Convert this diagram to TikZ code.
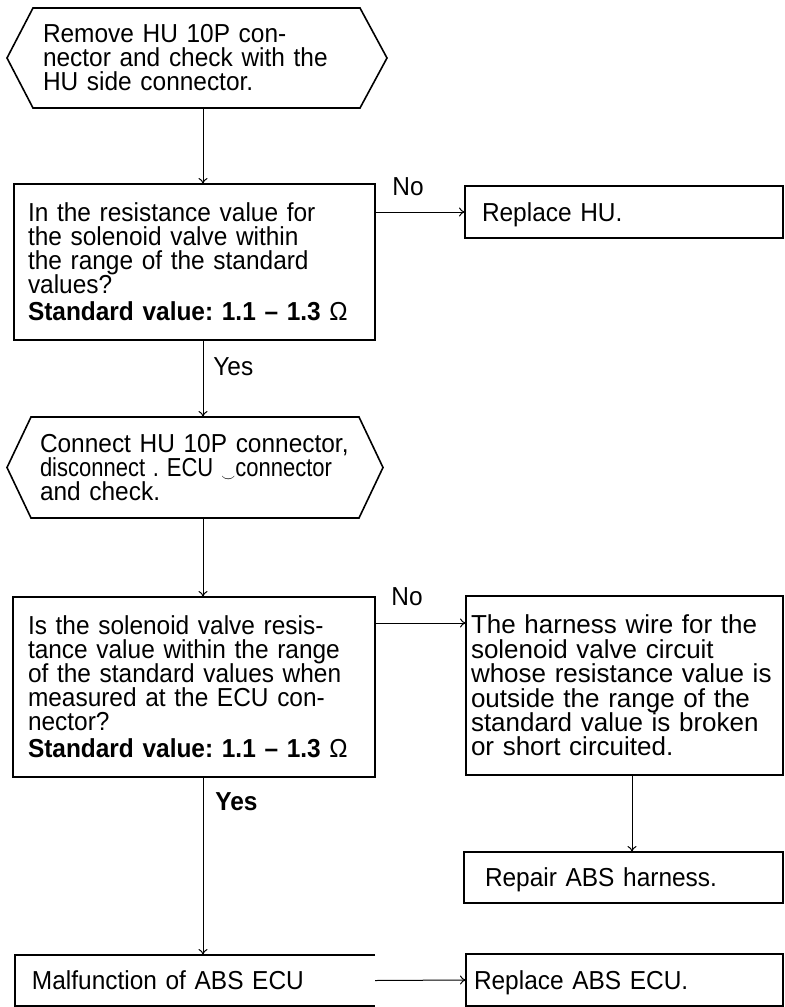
\documentclass[tikz,border=0pt]{standalone}
\usepackage{graphicx}
\usepackage{fontspec}
\setmainfont{Liberation Sans}[FakeStretch=0.94]
\newfontfamily\plainsans{Liberation Sans}
\usetikzlibrary{arrows.meta,calc}
\newcommand\chartfont{\fontsize{13}{12}\selectfont\lineskiplimit-20pt\relax\frenchspacing}

\tikzset{
  txt/.style={font=\chartfont},
  askbox/.style={draw, line width=1pt, inner sep=0pt, outer sep=0pt, align=left, txt},
  actbox/.style={askbox, line width=1.4pt, text depth=0pt},
  hexnode/.style={inner sep=0pt, outer sep=0pt, align=left, txt},
  hexline/.style={line width=.8pt},
  flow/.style={-{To[length=3pt,width=4.5pt]}, line width=.5pt},
  tag/.style={anchor=base west, inner sep=0pt, font=\fontsize{13}{13}\selectfont},
}

\begin{document}
\begin{tikzpicture}[x=.5pt,y=-.5pt]
  \useasboundingbox (0,0) rectangle (785,1007);
  \coordinate (spine) at (203,0);
  \coordinate (rspine) at (632,0);
  \coordinate (armB) at (0,623);

  % first check
  \node[hexnode, minimum width=190pt, minimum height=50pt, text width=154pt] (hexA) at (197,58)
    {Remove HU 10P con-\\nector and check with the\\HU side connector.};
  \draw[hexline] ($(hexA.north west)+(26,0)$) -- ($(hexA.north east)+(-27,0)$) -- (hexA.east)
    -- ($(hexA.south east)+(-27,0)$) -- ($(hexA.south west)+(26,0)$) -- (hexA.west) -- cycle;

  \node[askbox, minimum width=180.5pt, minimum height=78pt, text width=166.5pt] (qA) at (194.5,262)
    {In the resistance value for\\the solenoid valve within\\the range of the standard\\values?\\[1.5pt]
     \textbf{Standard value: 1.1 -- 1.3 \mdseries Ω}};
  \node[actbox, minimum width=159pt, minimum height=26pt, text width=142pt] (fixA) at (624,212) {Replace HU.};

  % second check
  \node[hexnode, minimum width=188pt, minimum height=50.5pt, text width=155pt] (hexB) at (195,467.5)
    {\mbox{Connect HU 10P connector,}\\
     \scalebox{.9}[1]{disconnect . ECU \raisebox{-.35ex}{\scriptsize$\smile$}connector}\\and check.};
  \draw[hexline] ($(hexB.north west)+(24,0)$) -- ($(hexB.north east)+(-24,0)$) -- (hexB.east)
    -- ($(hexB.south east)+(-24,0)$) -- ($(hexB.south west)+(24,0)$) -- (hexB.west) -- cycle;

  \node[askbox, minimum width=181pt, minimum height=90pt, text width=166pt] (qB) at (194,687)
    {Is the solenoid valve resis-\\tance value within the range\\of the standard values when\\measured at the ECU con-\\nector?\\[1.5pt]
     \textbf{Standard value: 1.1 -- 1.3 \mdseries Ω}};
  \node[askbox, minimum width=158.5pt, minimum height=89.5pt, text width=153.5pt,
        font=\plainsans\fontsize{13}{12.2}\selectfont] (wire) at (624.5,685.5)
    {The harness wire for the\\solenoid valve circuit\\whose resistance value is\\outside the range of the\\standard value is broken\\or short circuited.};
  \node[actbox, minimum width=159.5pt, minimum height=25.5pt, text width=138.5pt] (mend) at (623.5,877.5) {Repair ABS harness.};

  % result
  \node[hexnode, text depth=0pt, minimum width=180pt, minimum height=25.5pt, text width=163pt] (bad) at (195,980.5)
    {Malfunction of ABS ECU};
  \draw[line width=1pt] (bad.north east) -- (bad.north west) -- (bad.south west) -- (bad.south east);
  \node[actbox, minimum width=158.5pt, minimum height=26pt, text width=150.5pt] (ecu) at (624.5,980) {Replace ABS ECU.};

  % labels
  \node[tag] (noA) at (392,195) {No};
  \node[tag] (yesA) at (213,375) {Yes};
  \node[tag] (noB) at (391,605) {No};
  \node[tag, font=\fontsize{13}{13}\selectfont\bfseries] (yesB) at (215,810) {Yes};

  % connectors
  \draw[flow] (hexA.south -| spine) -- (qA.north -| spine);
  \draw[flow] (fixA.west -| qA.east) -- (fixA.west);
  \draw[flow] (qA.south -| spine) -- (hexB.north -| spine);
  \draw[flow] (hexB.south -| spine) -- (qB.north -| spine);
  \draw[flow] (armB -| qB.east) -- (armB -| wire.west);
  \draw[flow] (wire.south -| rspine) -- (mend.north -| rspine);
  \draw[flow] (qB.south -| spine) -- (bad.north -| spine);
  \draw[flow] (bad.east) -- (ecu.west);
\end{tikzpicture}
\end{document}
